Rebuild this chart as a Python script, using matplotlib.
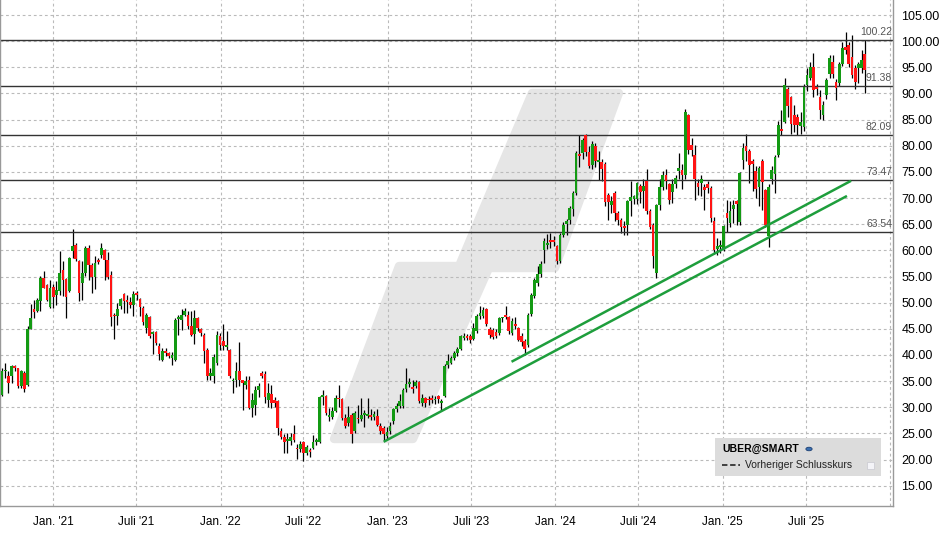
import matplotlib
matplotlib.use("Agg")
import matplotlib.pyplot as plt
import matplotlib.dates as mdates
from matplotlib.patches import Polygon, Rectangle, Circle
from matplotlib.lines import Line2D
import matplotlib.transforms as mtransforms
import numpy as np
import pandas as pd

plt.rcParams['font.family'] = ['Liberation Sans', 'DejaVu Sans']

# --- weekly candles (Friday of each week) ---
first_week = '2020-09-11'
n_weeks = 270

opens = [
    32.4, 36.9, 35.9, 35.9, 37.9, 37.5, 34.0, 36.5, 34.2, 45.0,
    48.7, 48.5, 50.3, 54.7, 53.3, 49.2, 53.0, 51.4, 52.2, 56.3,
    54.6, 52.2, 59.8, 61.1, 57.9, 53.7, 55.6, 60.4, 57.2, 55.0,
    58.1, 59.1, 60.0, 58.1, 55.2, 47.7, 47.4, 49.4, 51.7, 50.6,
    50.1, 49.6, 51.8, 50.7, 48.9, 45.1, 47.3, 44.0, 44.4, 41.8,
    39.1, 40.7, 40.3, 39.5, 39.0, 46.9, 46.7, 47.7, 47.7, 45.6,
    44.0, 47.1, 45.0, 43.9, 41.0, 36.0, 36.0, 38.5, 43.6, 42.7,
    41.5, 41.0, 35.0, 35.2, 36.9, 35.2, 34.3, 35.2, 29.8, 30.4,
    33.3, 36.5, 36.4, 31.4, 32.5, 31.4, 31.2, 25.5, 24.4, 23.6,
    23.6, 24.9, 22.3, 22.0, 23.3, 21.2, 21.8, 22.3, 23.4, 23.4,
    32.0, 32.2, 28.2, 28.2, 29.3, 31.8, 31.5, 27.9, 26.9, 28.6,
    25.4, 27.9, 27.7, 28.6, 28.4, 28.6, 28.2, 28.4, 26.5, 26.1,
    24.5, 25.4, 27.3, 29.6, 30.3, 30.3, 33.4, 34.4, 33.9, 34.0,
    34.8, 30.9, 31.7, 31.5, 31.6, 31.3, 32.1, 30.9, 32.1, 38.0,
    38.5, 39.5, 40.3, 41.2, 43.3, 43.7, 43.7, 43.0, 44.6, 47.4,
    47.4, 48.8, 44.9, 44.8, 44.4, 44.2, 47.0, 47.6, 47.2, 44.2,
    45.9, 45.1, 43.6, 42.6, 41.9, 47.9, 51.3, 53.7, 55.5, 60.0,
    61.0, 62.0, 61.8, 60.8, 57.9, 63.0, 65.1, 65.8, 67.9, 71.0,
    78.5, 78.7, 82.0, 78.8, 76.3, 80.0, 76.9, 76.9, 76.5, 70.5,
    68.6, 71.0, 67.1, 65.8, 64.6, 64.8, 69.4, 69.9, 69.9, 72.3,
    71.3, 73.3, 67.6, 64.9, 55.6, 68.6, 72.1, 74.4, 72.6, 71.2,
    72.6, 75.2, 75.3, 74.4, 85.8, 80.1, 78.2, 72.8, 72.8, 72.1,
    72.6, 72.0, 65.6, 60.3, 60.6, 60.1, 67.1, 65.3, 68.0, 69.4,
    65.4, 77.3, 79.9, 79.0, 77.1, 75.2, 72.2, 77.1, 71.5, 62.7,
    73.6, 74.6, 78.2, 83.2, 84.6, 90.8, 89.3, 85.8, 85.5, 83.8,
    83.5, 91.6, 93.0, 95.1, 91.3, 89.3, 85.8, 89.7, 93.7, 96.1,
    92.2, 92.0, 95.7, 98.9, 99.2, 97.0, 94.8, 94.8, 94.8, 97.6,
]
highs = [
    37.5, 38.5, 36.9, 38.0, 38.0, 37.6, 37.1, 36.9, 45.5, 49.7,
    50.6, 50.8, 55.1, 56.0, 53.5, 54.3, 53.5, 54.1, 59.8, 57.9,
    54.7, 58.8, 64.0, 61.4, 58.2, 57.9, 60.8, 61.1, 57.6, 58.9,
    58.6, 61.4, 60.2, 59.6, 56.0, 48.1, 50.0, 50.9, 51.8, 51.5,
    51.1, 52.2, 52.3, 50.9, 49.3, 48.1, 47.5, 44.6, 44.6, 42.3,
    41.3, 41.3, 40.6, 40.5, 47.1, 47.7, 48.8, 49.0, 48.4, 48.4,
    48.6, 47.3, 45.2, 44.2, 41.3, 37.5, 40.1, 44.6, 44.2, 45.9,
    44.5, 41.1, 35.5, 38.7, 42.5, 35.3, 36.0, 35.9, 32.7, 34.0,
    34.7, 37.0, 37.0, 34.7, 34.3, 32.0, 31.4, 26.1, 24.8, 25.0,
    25.0, 26.6, 23.0, 23.5, 23.5, 22.7, 22.3, 24.7, 24.2, 32.2,
    33.3, 32.4, 29.8, 30.0, 32.3, 34.3, 31.7, 28.8, 30.3, 28.9,
    29.2, 30.5, 31.8, 29.5, 31.8, 29.6, 29.2, 29.6, 27.0, 26.4,
    26.3, 27.2, 29.8, 30.9, 32.5, 33.6, 37.6, 35.6, 35.2, 35.3,
    35.0, 32.5, 32.0, 32.2, 32.3, 32.2, 32.3, 31.6, 38.2, 40.1,
    39.8, 40.7, 41.6, 43.9, 44.2, 44.0, 44.0, 46.2, 47.9, 49.3,
    49.2, 49.0, 45.4, 45.2, 45.0, 47.3, 47.3, 49.3, 47.5, 47.0,
    47.3, 45.4, 44.2, 43.0, 48.0, 51.8, 54.7, 57.0, 57.9, 62.4,
    63.2, 63.3, 62.8, 61.0, 63.3, 65.5, 66.0, 68.4, 71.3, 79.0,
    82.0, 81.5, 82.2, 80.0, 81.0, 80.5, 79.0, 77.5, 76.8, 71.0,
    70.4, 71.3, 67.5, 66.2, 65.6, 69.7, 73.3, 70.6, 73.0, 72.6,
    73.7, 75.5, 68.0, 65.3, 68.8, 73.6, 75.2, 75.5, 72.9, 73.6,
    74.4, 78.7, 76.5, 87.0, 86.1, 81.4, 80.1, 73.6, 74.5, 72.6,
    73.2, 72.3, 66.3, 62.4, 62.0, 64.9, 69.7, 69.4, 69.7, 69.7,
    74.9, 80.6, 82.2, 79.3, 77.4, 76.2, 76.2, 77.4, 71.7, 72.6,
    76.2, 78.3, 84.8, 86.9, 92.9, 91.2, 89.5, 87.8, 86.0, 86.5,
    91.8, 94.8, 96.0, 97.7, 91.8, 90.6, 88.5, 93.0, 97.3, 97.3,
    92.8, 96.0, 99.9, 101.8, 99.8, 101.2, 95.4, 96.0, 98.3, 100.2,
]
lows = [
    32.1, 35.5, 32.8, 34.7, 37.0, 33.7, 33.7, 32.9, 34.0, 44.9,
    47.0, 48.3, 48.4, 52.8, 50.3, 49.0, 49.0, 49.6, 51.5, 51.2,
    47.1, 52.0, 58.6, 57.9, 50.4, 50.6, 55.1, 54.4, 51.8, 52.6,
    57.3, 58.5, 54.4, 54.6, 45.6, 43.0, 45.8, 48.7, 48.1, 48.0,
    49.0, 47.5, 50.5, 47.4, 45.8, 44.2, 43.3, 40.1, 41.9, 39.1,
    38.8, 39.8, 39.5, 38.0, 38.8, 43.9, 44.7, 47.5, 44.9, 43.7,
    42.0, 44.5, 43.6, 38.5, 35.2, 35.2, 34.7, 38.0, 41.0, 41.0,
    40.9, 35.5, 32.7, 33.9, 34.0, 29.5, 33.5, 29.6, 28.2, 28.6,
    32.0, 35.5, 30.9, 30.0, 29.9, 30.0, 24.7, 23.9, 21.2, 21.2,
    22.8, 23.4, 20.1, 21.4, 19.8, 20.9, 20.4, 22.0, 22.8, 23.2,
    30.5, 28.5, 27.4, 27.8, 29.0, 30.1, 27.5, 26.0, 26.4, 23.1,
    25.0, 27.0, 27.3, 26.3, 28.0, 27.6, 27.5, 26.5, 24.9, 23.5,
    23.9, 24.8, 26.8, 29.0, 29.8, 29.9, 33.0, 33.8, 32.8, 33.6,
    30.8, 30.2, 30.1, 30.5, 30.8, 30.6, 30.9, 29.3, 31.9, 37.6,
    38.2, 39.0, 39.8, 40.9, 42.8, 42.9, 42.3, 42.8, 44.2, 46.8,
    47.0, 45.6, 43.3, 43.0, 43.2, 43.9, 46.3, 46.8, 44.1, 43.9,
    45.0, 42.6, 41.8, 40.0, 41.6, 47.5, 50.8, 53.2, 55.0, 57.6,
    60.3, 60.5, 60.8, 57.4, 57.5, 62.5, 63.0, 65.0, 66.5, 70.5,
    76.0, 77.5, 78.0, 75.7, 75.5, 76.0, 73.5, 73.3, 68.5, 65.8,
    67.2, 65.6, 64.8, 63.3, 63.0, 63.0, 66.5, 68.8, 68.8, 69.1,
    68.1, 67.0, 64.0, 56.6, 54.7, 67.8, 71.5, 71.7, 68.8, 69.0,
    72.0, 73.6, 71.7, 73.6, 78.5, 78.0, 69.7, 70.5, 70.4, 67.8,
    70.9, 65.5, 59.3, 59.2, 59.5, 59.8, 63.5, 64.5, 65.2, 64.8,
    64.9, 75.6, 77.0, 72.8, 71.3, 70.1, 68.4, 67.8, 64.5, 60.6,
    72.6, 71.0, 77.8, 82.0, 84.3, 85.5, 82.3, 82.6, 82.0, 82.3,
    82.9, 90.5, 92.5, 89.3, 89.8, 85.2, 85.0, 89.0, 93.0, 93.0,
    88.7, 91.5, 95.3, 97.5, 95.0, 93.0, 90.9, 92.0, 94.0, 90.0,
]
closes = [
    37.0, 37.1, 34.7, 37.9, 37.6, 34.0, 36.9, 33.4, 44.9, 47.0,
    48.3, 50.6, 54.7, 52.8, 50.6, 52.8, 51.0, 52.4, 55.7, 54.4,
    51.1, 58.6, 60.8, 58.4, 51.9, 55.6, 60.4, 57.2, 54.9, 57.6,
    57.7, 60.4, 58.1, 54.9, 47.3, 47.4, 48.8, 50.7, 50.3, 50.1,
    49.6, 51.7, 51.4, 49.2, 46.3, 47.6, 43.6, 44.2, 42.2, 40.1,
    40.7, 40.3, 39.8, 40.0, 46.7, 47.1, 47.7, 48.4, 45.6, 43.9,
    47.1, 45.2, 44.2, 40.7, 35.9, 36.6, 39.6, 43.8, 41.9, 41.7,
    41.9, 36.0, 35.3, 36.9, 35.2, 34.7, 35.1, 29.8, 31.4, 33.3,
    34.1, 36.0, 32.0, 32.7, 30.9, 30.9, 26.1, 24.4, 23.4, 24.0,
    24.3, 23.8, 22.0, 23.0, 21.3, 22.4, 21.5, 23.3, 23.6, 32.0,
    32.4, 28.9, 28.5, 29.2, 31.8, 31.5, 27.9, 26.4, 28.2, 24.8,
    28.9, 27.7, 28.6, 28.9, 28.8, 28.2, 28.7, 26.7, 25.4, 24.8,
    25.2, 26.5, 29.6, 30.3, 31.2, 33.3, 34.4, 34.8, 33.4, 34.8,
    31.2, 31.8, 30.9, 31.3, 31.4, 31.5, 31.5, 31.2, 37.9, 38.8,
    39.5, 40.4, 41.2, 43.6, 43.7, 43.3, 42.9, 45.2, 47.5, 48.1,
    48.6, 45.9, 43.8, 43.5, 43.7, 47.0, 47.2, 47.3, 44.5, 46.4,
    45.6, 42.9, 42.4, 41.1, 47.7, 51.5, 54.4, 55.5, 57.3, 61.7,
    61.5, 61.6, 61.6, 57.9, 63.0, 64.9, 65.6, 68.1, 70.9, 78.7,
    78.1, 81.1, 78.8, 76.2, 80.3, 77.1, 77.3, 75.5, 69.3, 69.2,
    69.4, 67.2, 65.8, 64.4, 64.2, 69.4, 70.2, 70.4, 72.8, 71.2,
    72.4, 67.6, 64.4, 59.0, 68.6, 72.1, 74.4, 73.3, 69.6, 72.6,
    73.9, 75.8, 74.4, 86.5, 79.2, 79.2, 73.6, 72.1, 73.6, 71.5,
    72.0, 66.2, 60.0, 60.8, 61.1, 64.6, 66.1, 67.5, 68.6, 68.8,
    74.7, 79.5, 79.0, 76.3, 76.5, 71.7, 75.8, 73.0, 64.9, 72.2,
    75.4, 77.9, 84.0, 82.9, 91.6, 87.6, 84.2, 84.0, 83.9, 84.6,
    91.3, 93.5, 95.0, 90.6, 90.9, 86.9, 87.7, 92.5, 96.7, 93.7,
    91.1, 95.7, 98.6, 98.4, 95.7, 93.5, 92.2, 95.7, 96.4, 94.5,
]

# horizontal marks and trend channels
levels = [100.22, 91.38, 82.09, 73.47, 63.54]
trend_lower = [('2022-12-23', 23.4), ('2025-09-29', 70.4)]
trend_upper = [('2023-09-28', 38.7), ('2025-10-08', 73.3)]

tick_dates = ['2021-01-01', '2021-07-01', '2022-01-01', '2022-07-01', '2023-01-01',
              '2023-07-01', '2024-01-01', '2024-07-01', '2025-01-01', '2025-07-01',
              '2026-01-01']
tick_labels = ["Jan. '21", "Juli '21", "Jan. '22", "Juli '22", "Jan. '23",
               "Juli '23", "Jan. '24", "Juli '24", "Jan. '25", "Juli '25", ""]

dates = pd.date_range(first_week, periods=n_weeks, freq='7D')
x = mdates.date2num(dates)
o = np.array(opens); h = np.array(highs); l = np.array(lows); c = np.array(closes)

fig = plt.figure(figsize=(9.48, 5.34), dpi=100)
ax = fig.add_axes([0.0, 28 / 534, 893 / 948, 506 / 534])

GREEN = '#139a13'
RED = '#ff1414'

# background watermark (axes pixel coords -> fraction)
wm_px = [(334, 439), (413, 439), (489, 268), (555, 268), (619, 93),
         (532, 93), (459, 266), (399, 266)]
wm = [(px / 893, (506 - py) / 506) for px, py in wm_px]
ax.add_patch(Polygon(wm, closed=True, transform=ax.transAxes, facecolor='#e6e6e6',
                     edgecolor='#e6e6e6', lw=6, joinstyle='round', zorder=0.1))

# candles
ax.vlines(x, l, h, color='black', lw=0.9, zorder=2)
body_lo = np.minimum(o, c)
body_h = np.maximum(np.abs(c - o), 0.3)
cols = [GREEN if cc >= oo else RED for oo, cc in zip(o, c)]
ax.bar(x, body_h, bottom=body_lo, width=5.9, color=cols, linewidth=0, zorder=3)

# levels
trans = mtransforms.blended_transform_factory(ax.transAxes, ax.transData)
for lv in levels:
    ax.axhline(lv, color='#333333', lw=1.0, zorder=2.5)
    ax.text(0.999, lv + 0.55, f'{lv:.2f}', transform=trans, ha='right', va='bottom',
            fontsize=7.5, color='#555555', zorder=4)

# trend lines
for seg in (trend_lower, trend_upper):
    xs = mdates.date2num(pd.to_datetime([p[0] for p in seg]))
    ys = [p[1] for p in seg]
    ax.plot(xs, ys, color='#1e9e3c', lw=1.8, zorder=4, solid_capstyle='butt')

# axes limits
ax.set_xlim(mdates.date2num(pd.Timestamp('2020-09-06 17:00')),
            mdates.date2num(pd.Timestamp('2026-01-07 12:00')))
ax.set_ylim(11.12, 107.87)

ax.set_xticks(mdates.date2num(pd.to_datetime(tick_dates)))
ax.set_xticklabels(tick_labels)
ax.set_yticks(np.arange(15, 106, 5))
ax.yaxis.set_major_formatter(matplotlib.ticker.FormatStrFormatter('%.2f'))
ax.yaxis.tick_right()
ax.tick_params(axis='x', length=0, pad=7, labelsize=8.5)
ax.tick_params(axis='y', length=0, pad=6, labelsize=9)

ax.set_axisbelow(True)
ax.grid(True, color='#bababa', lw=0.8, linestyle=(0, (2.5, 2.5)))

for side in ('left', 'bottom', 'right'):
    ax.spines[side].set_color('#999999')
    ax.spines[side].set_linewidth(1.0)
ax.spines['top'].set_visible(False)

# legend box
ax.add_patch(Rectangle((715 / 893, (506 - 476) / 506), 166 / 893, 38 / 506,
                       transform=ax.transAxes, facecolor='#dcdcdc', edgecolor='none', zorder=5))
ax.text(722 / 893, (506 - 449) / 506, 'UBER@SMART', transform=ax.transAxes,
        fontsize=7.5, fontweight='bold', va='center', ha='left', zorder=6)
ax.add_patch(Circle((809 / 893, (506 - 449) / 506), 0.0035, transform=ax.transAxes,
                    facecolor='#3a6fb0', edgecolor='#1c3f73', lw=0.6, zorder=6))
ax.add_line(Line2D([722 / 893, 740 / 893], [(506 - 465) / 506] * 2, transform=ax.transAxes,
                   color='#333333', lw=1.3, linestyle=(0, (3, 1.5)), zorder=6))
ax.text(745 / 893, (506 - 465) / 506, 'Vorheriger Schlusskurs', transform=ax.transAxes,
        fontsize=7.5, va='center', ha='left', color='#222222', zorder=6)
ax.add_patch(Rectangle((867 / 893, (506 - 469) / 506), 7 / 893, 7 / 506,
                       transform=ax.transAxes, facecolor='#f4f4f8', edgecolor='#c8c8d0',
                       lw=0.5, zorder=6))

fig.savefig('out.png', dpi=100)
